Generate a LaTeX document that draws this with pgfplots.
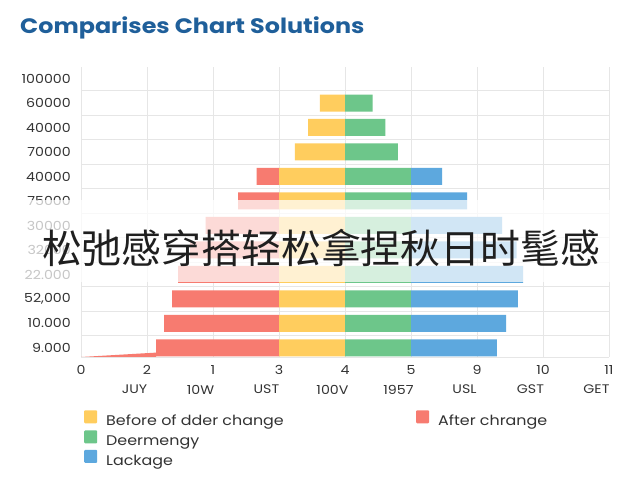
\documentclass[border=0pt]{standalone}
\usepackage{fontspec}
\setmainfont{Poppins}[FakeStretch=1.14]
\newfontfamily\cjk{Noto Sans CJK SC}
\usepackage{pgfplots}
\usepackage{pgfplotstable}
\pgfplotsset{compat=1.18}

\definecolor{cred}{HTML}{F77B70}
\definecolor{cyel}{HTML}{FFCD5E}
\definecolor{cgrn}{HTML}{6DC68A}
\definecolor{cblu}{HTML}{5DA8DE}
\definecolor{ctitle}{HTML}{1F5F9A}
\definecolor{cgrid}{HTML}{E6E6E6}
\definecolor{ctext}{HTML}{333333}

% row k: invisible offset, then red, yellow, green, blue widths
\pgfplotstableread{
k  off   red   yel   grn   blu
0  1.14  1.86  1.00  1.00  1.30
1  1.26  1.74  1.00  1.00  1.44
2  1.38  1.62  1.00  1.00  1.62
3  1.47  1.53  1.00  1.00  1.70
4  1.65  1.35  1.00  1.00  1.60
5  1.89  1.11  1.00  1.00  1.38
6  2.38  0.62  1.00  1.00  0.85
7  2.66  0.34  1.00  1.00  0.47
8  3.24  0.00  0.76  0.80  0.00
9  3.44  0.00  0.56  0.61  0.00
10 3.62  0.00  0.38  0.42  0.00
}\bars

\pgfplotsset{frame/.style={
  scale only axis, width=528bp, height=290bp,
  xmin=0, xmax=8, ymin=-0.37, ymax=11.47,
  at={(81bp,123bp)}, anchor=south west}}

\begin{document}
\begin{tikzpicture}
\path[use as bounding box, fill=white] (0bp,0bp) rectangle (640bp,480bp);
\node[anchor=west, inner sep=0pt, text=ctitle,
  font=\fontsize{21}{24}\selectfont\bfseries] at (20bp,452bp) {Comparises Chart Solutions};

\begin{axis}[frame,
  xbar stacked, bar width=17bp,
  axis line style={draw=none},
  major tick length=0pt, minor tick length=0pt,
  xtick={0,1,2,3,4,5,6,7,8},
  xticklabels={0,2,1,3,4,5,9,10,11},
  extra x ticks={0.81,1.81,2.81,3.81,4.81,5.81,6.81,7.81},
  extra x tick labels={JUY,10W,UST,100V,1957,USL,GST,GET},
  extra x tick style={grid=none, xticklabel style={yshift=-20bp}},
  ytick={0,1,2,3,4,5,6,7,8,9,10,11},
  yticklabels={9.000,10.000,{52,000},22.000,32000,30000,75000,40000,70000,40000,60000,100000},
  minor ytick={0.5,1.5,2.5,3.5,4.5,5.5,6.5,7.5,8.5,9.5,10.5},
  extra y ticks={-0.37}, extra y tick labels={}, extra y tick style={grid=major},
  xmajorgrids, yminorgrids,
  grid style={cgrid, line width=0.8bp},
  minor grid style={cgrid, line width=0.8bp},
  tick label style={font=\fontsize{12.5}{14}\selectfont, text=ctext, inner sep=0pt},
  xticklabel style={anchor=north, yshift=-8bp},
  yticklabel style={anchor=east, xshift=-10bp},
]
\addplot[draw=none, fill=none, forget plot] table[x=off, y=k]{\bars};
\addplot[draw=none, fill=cred, forget plot] table[x=red, y=k]{\bars};
\addplot[draw=none, fill=cyel, forget plot] table[x=yel, y=k]{\bars};
\addplot[draw=none, fill=cgrn, forget plot] table[x=grn, y=k]{\bars};
\addplot[draw=none, fill=cblu, forget plot] table[x=blu, y=k]{\bars};
\end{axis}

\begin{axis}[frame, hide axis,
  legend columns=2,
  legend cell align=left,
  legend style={at={(0.0057,-0.183)}, anchor=north west, draw=none, fill=none,
    inner sep=0pt, font=\fontsize{14}{16}\selectfont, text=ctext, row sep=1bp,
    /tikz/every odd column/.append style={column sep=7bp}},
  legend image code/.code={\fill[#1, rounded corners=1bp] (0bp,-2bp) rectangle (13bp,11bp);},
]
\addplot[fill=cred, draw=none, forget plot] coordinates {(0,-0.37) (1.14,-0.19) (1.14,-0.37)} -- cycle;
\addlegendimage{fill=cyel, draw=none}
\addlegendentry{\makebox[308bp][l]{Before of dder change}}
\addlegendimage{fill=cred, draw=none}
\addlegendentry{After chrange}
\addlegendimage{fill=cgrn, draw=none}
\addlegendentry{Deermengy}
\addlegendimage{empty legend}
\addlegendentry{}
\addlegendimage{fill=cblu, draw=none}
\addlegendentry{Lackage}
\end{axis}

\fill[white, fill opacity=0.72] (0bp,198bp) rectangle (640bp,280bp);
\node[inner sep=0pt, text=black!88, font=\cjk\fontsize{40}{44}\selectfont] at (321bp,232bp) {松弛感穿搭轻松拿捏秋日时髦感};
\end{tikzpicture}
\end{document}
